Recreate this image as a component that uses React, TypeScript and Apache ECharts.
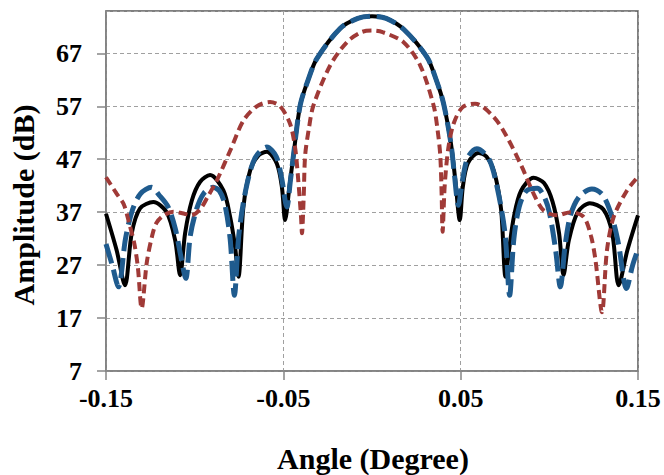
import React, { useEffect, useRef } from "react";
import * as echarts from "echarts";

// Angle (degree) / amplitude (dB) readings for each curve
const blackCurve: [number, number][] = [
  [-0.15, 36.7], [-0.144, 29.8], [-0.1393, 23.2], [-0.1355, 33.0], [-0.1308, 37.7],
  [-0.1233, 38.9], [-0.1158, 37.0], [-0.111, 31.7], [-0.1082, 25.1], [-0.1054, 33.0],
  [-0.1016, 39.2], [-0.097, 42.7], [-0.0913, 44.0], [-0.0838, 41.1], [-0.08, 36.1],
  [-0.0772, 30.4], [-0.0753, 24.8], [-0.0725, 38.0], [-0.0687, 44.9], [-0.064, 47.7],
  [-0.0593, 48.4], [-0.0537, 46.2], [-0.0508, 41.7], [-0.049, 35.5], [-0.0465, 42.0],
  [-0.0443, 47.7], [-0.0405, 57.2], [-0.036, 62.0], [-0.0311, 66.0], [-0.018, 71.7],
  [-0.008, 73.6], [0.0, 74.0], [0.008, 73.6], [0.018, 71.5], [0.031, 66.3],
  [0.036, 62.2], [0.0403, 57.6], [0.0445, 50.0], [0.047, 43.0], [0.0495, 35.5],
  [0.0512, 41.7], [0.054, 46.2], [0.06, 48.2], [0.0645, 47.5], [0.069, 44.5],
  [0.0728, 37.5], [0.0753, 24.8], [0.0775, 30.4], [0.08, 36.1], [0.084, 41.0],
  [0.0911, 43.5], [0.097, 42.5], [0.1018, 39.0], [0.1055, 33.0], [0.108, 25.1],
  [0.111, 31.7], [0.116, 37.0], [0.1228, 38.7], [0.1305, 37.5], [0.1355, 33.0],
  [0.1391, 23.2], [0.144, 29.8], [0.15, 36.4],
];

const blueCurve: [number, number][] = [
  [-0.15, 31.0], [-0.1465, 27.0], [-0.143, 22.9], [-0.139, 32.0], [-0.135, 37.5],
  [-0.1305, 40.5], [-0.1243, 41.7], [-0.12, 40.2], [-0.115, 38.0], [-0.111, 34.0],
  [-0.108, 29.0], [-0.105, 24.5], [-0.1025, 32.5], [-0.099, 37.5], [-0.095, 40.5],
  [-0.0896, 41.7], [-0.086, 41.0], [-0.083, 38.5], [-0.08, 32.0], [-0.0776, 21.3],
  [-0.075, 33.0], [-0.071, 41.5], [-0.066, 47.2], [-0.0593, 49.3], [-0.054, 47.5],
  [-0.051, 43.5], [-0.048, 38.0], [-0.046, 43.0], [-0.0443, 47.7], [-0.0405, 57.2],
  [-0.036, 62.0], [-0.0311, 66.0], [-0.018, 71.7], [-0.008, 73.6], [0.0, 74.0],
  [0.008, 73.6], [0.018, 71.5], [0.031, 66.3], [0.036, 62.2], [0.0403, 57.6],
  [0.0445, 50.0], [0.0465, 44.0], [0.0487, 38.3], [0.051, 43.0], [0.054, 47.3],
  [0.0591, 49.0], [0.066, 47.0], [0.071, 41.0], [0.075, 33.0], [0.0776, 21.3],
  [0.08, 32.0], [0.083, 38.0], [0.087, 41.0], [0.0932, 41.5], [0.097, 40.0],
  [0.1, 37.0], [0.1035, 30.0], [0.1062, 22.9], [0.109, 31.0], [0.112, 36.5],
  [0.117, 40.0], [0.124, 41.4], [0.13, 40.3], [0.135, 36.5], [0.139, 31.0],
  [0.1435, 22.6], [0.147, 27.0], [0.15, 30.0],
];

const redCurve: [number, number][] = [
  [-0.15, 43.6], [-0.144, 40.5], [-0.14, 38.5], [-0.137, 35.0], [-0.134, 31.0],
  [-0.132, 26.5], [-0.1299, 18.8], [-0.127, 27.5], [-0.124, 32.5], [-0.1215, 35.0],
  [-0.117, 36.5], [-0.112, 37.1], [-0.107, 36.8], [-0.102, 36.4], [-0.097, 37.5],
  [-0.0925, 40.0], [-0.0875, 43.0], [-0.08, 48.6], [-0.0725, 54.3], [-0.065, 57.0],
  [-0.0575, 57.8], [-0.0518, 57.0], [-0.0462, 53.7], [-0.0433, 49.0], [-0.0415, 42.7],
  [-0.04, 36.0], [-0.0395, 33.0], [-0.0385, 40.0], [-0.0377, 47.7], [-0.0355, 53.0],
  [-0.033, 57.2], [-0.0236, 64.7], [-0.0142, 69.1], [-0.006, 71.0], [0.0, 71.3],
  [0.006, 71.0], [0.0178, 69.1], [0.0272, 64.7], [0.0347, 57.2], [0.037, 52.5],
  [0.0385, 47.7], [0.0393, 40.0], [0.0398, 33.3], [0.041, 42.0], [0.043, 49.0],
  [0.046, 53.7], [0.051, 56.8], [0.0582, 57.5], [0.0686, 55.0], [0.0761, 51.2],
  [0.0846, 45.5], [0.0911, 40.5], [0.0968, 37.3], [0.1043, 36.4], [0.112, 37.0],
  [0.1194, 36.1], [0.1235, 32.5], [0.126, 28.0], [0.1297, 18.1], [0.1325, 29.8],
  [0.1363, 36.1], [0.1438, 41.1], [0.15, 43.7],
];

// Axis definitions (x ticks at -0.15, -0.05, 0.05, 0.15; y ticks 7..67 step 10)
const xMin = -0.15;
const xMax = 0.15;
const xStep = 0.1;
const yMin = 7;
const yMax = 75;
const yStep = 10;

const FONT = '"Times New Roman", "Liberation Serif", serif';

const shift = (pts: [number, number][]) =>
  pts.map(([a, v]) => [a - xMin, v - yMin]);

export default function App() {
  const ref = useRef<HTMLDivElement>(null);

  useEffect(() => {
    if (!ref.current) return;
    const chart = echarts.init(ref.current, undefined, { renderer: "svg" });
    const gridColor = "#a0a0a0";
    const axisColor = "#868686";
    chart.setOption({
      animation: false,
      backgroundColor: "#ffffff",
      grid: {
        left: 106,
        right: 26,
        top: 11,
        bottom: 104,
        show: true,
        borderColor: "#555555",
        borderWidth: 1.5,
        backgroundColor: "transparent",
      },
      xAxis: {
        type: "value",
        min: 0,
        max: xMax - xMin,
        interval: xStep,
        axisLine: { show: true, lineStyle: { color: axisColor, width: 1.5 } },
        axisTick: { show: true, length: 9, lineStyle: { color: axisColor, width: 1.5 } },
        axisLabel: {
          formatter: (v: number) => (v + xMin).toFixed(2),
          fontFamily: FONT,
          fontSize: 26,
          fontWeight: "bold",
          color: "#000",
          margin: 14,
        },
        splitLine: { show: true, lineStyle: { color: gridColor, type: [4, 3], width: 1 } },
      },
      yAxis: {
        type: "value",
        min: 0,
        max: yMax - yMin,
        interval: yStep,
        axisLine: { show: true, lineStyle: { color: axisColor, width: 1.5 } },
        axisTick: { show: true, length: 9, lineStyle: { color: axisColor, width: 1.5 } },
        axisLabel: {
          formatter: (v: number) => String(Math.round(v + yMin)),
          showMaxLabel: false,
          fontFamily: FONT,
          fontSize: 26,
          fontWeight: "bold",
          color: "#000",
          margin: 24,
        },
        splitLine: { show: true, lineStyle: { color: gridColor, type: [4, 3], width: 1 } },
      },
      graphic: [
        {
          type: "text",
          x: 373,
          y: 458,
          style: {
            text: "Angle (Degree)",
            fontFamily: FONT,
            fontSize: 30,
            fontWeight: "bold",
            fill: "#000",
            textAlign: "center",
            textVerticalAlign: "middle",
          },
        },
        {
          type: "text",
          x: 23,
          y: 205,
          rotation: Math.PI / 2,
          style: {
            text: "Amplitude (dB)",
            fontFamily: FONT,
            fontSize: 30,
            fontWeight: "bold",
            fill: "#000",
            textAlign: "center",
            textVerticalAlign: "middle",
          },
        },
      ],
      series: [
        {
          type: "line",
          data: shift(blackCurve),
          showSymbol: false,
          smooth: 0.3,
          lineStyle: { color: "#000000", width: 4 },
          z: 2,
        },
        {
          type: "line",
          data: shift(blueCurve),
          showSymbol: false,
          smooth: 0.3,
          lineStyle: { color: "#1f5b8e", width: 5, type: [20, 7] },
          z: 3,
        },
        {
          type: "line",
          data: shift(redCurve),
          showSymbol: false,
          smooth: 0.3,
          lineStyle: { color: "#a03a37", width: 4, type: [9, 5] },
          z: 4,
        },
      ],
    });
    return () => chart.dispose();
  }, []);

  return (
    <div
      ref={ref}
      style={{ position: "fixed", left: 0, top: 0, width: 664, height: 475 }}
    />
  );
}
